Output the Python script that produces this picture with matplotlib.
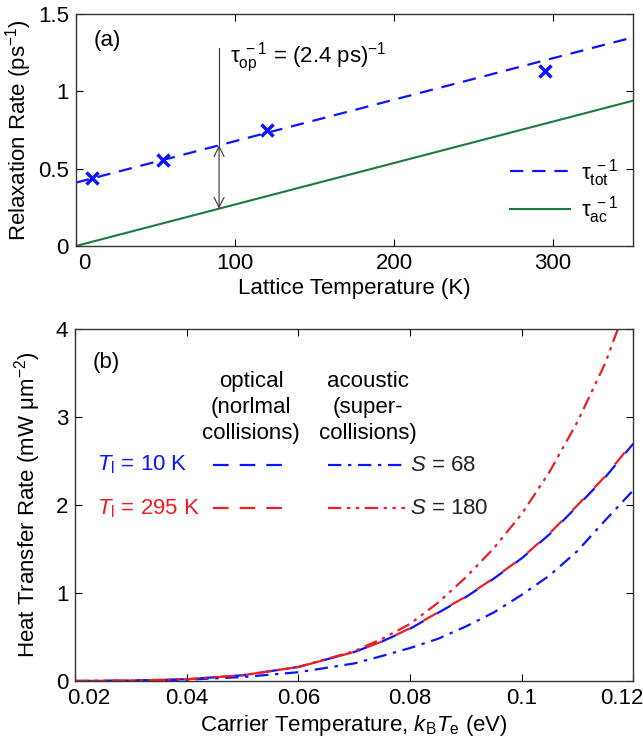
import numpy as np
import matplotlib
matplotlib.use('Agg')
import matplotlib.pyplot as plt
from matplotlib.lines import Line2D
from matplotlib.ticker import FuncFormatter
from matplotlib.transforms import ScaledTranslation

plt.rcParams['font.family'] = ['Liberation Sans', 'DejaVu Sans']
plt.rcParams['mathtext.fontset'] = 'custom'
plt.rcParams['mathtext.rm'] = 'Liberation Sans'
plt.rcParams['mathtext.it'] = 'Liberation Sans:italic'
plt.rcParams['font.size'] = 16
plt.rcParams['axes.linewidth'] = 1.0

# panel (a) data
meas_T = [10, 55, 120, 295]
meas_rate = [0.44, 0.555, 0.75, 1.135]
line_T = [0, 350]
tot_rate = [0.41, 1.35]
ac_rate = [0.0, 0.94]
arrow_T = 90
arrow_top = 1.28
arrow_hi = 0.652
arrow_lo = 0.242

# panel (b) data
kTe = [0.02, 0.03, 0.04, 0.05, 0.06, 0.07, 0.075, 0.08, 0.085, 0.09,
       0.095, 0.1, 0.105, 0.11, 0.115, 0.12]
opt_10K = [0.0, 0.005, 0.02, 0.065, 0.16, 0.33, 0.45, 0.595, 0.775, 0.955,
           1.165, 1.395, 1.67, 1.99, 2.32, 2.70]
opt_295K = [0.0, 0.005, 0.02, 0.065, 0.16, 0.33, 0.45, 0.60, 0.78, 0.96,
            1.17, 1.40, 1.68, 2.0, 2.33, 2.72]
ac_10K = [0.0, 0.003, 0.015, 0.045, 0.1, 0.2, 0.285, 0.375, 0.48, 0.62,
          0.78, 0.98, 1.2, 1.48, 1.83, 2.17]
kTe_ac295 = [0.02, 0.03, 0.04, 0.05, 0.06, 0.07, 0.075, 0.08, 0.085, 0.09,
             0.095, 0.1, 0.105, 0.11, 0.115, 0.1172]
ac_295K = [0.0, 0.005, 0.02, 0.065, 0.16, 0.34, 0.48, 0.65, 0.89, 1.18,
           1.51, 1.9, 2.38, 2.95, 3.62, 4.0]

blue = '#0a14ff'
red = '#ee1c24'
green = '#1b7a3e'

fmt = FuncFormatter(lambda v, p: '%g' % v)

fig = plt.figure(figsize=(6.43, 7.5), dpi=100)

# ---- (a)
ax1 = fig.add_axes([0.118, 0.672, 0.866, 0.309])
ax1.plot(line_T, tot_rate, color=blue, lw=1.6, dashes=(6, 4),
         label=r'$\mathrm{τ}_\mathrm{tot}^{\ -1}$')
ax1.plot(line_T, ac_rate, '-', color=green, lw=1.5,
         label=r'$\mathrm{τ}_\mathrm{ac}^{\ -1}$')
ax1.plot(meas_T, meas_rate, 'x', color=blue, ms=9, mew=2.5)
ax1.plot([arrow_T, arrow_T], [arrow_top, arrow_hi], color='#333333', lw=0.8)
ax1.annotate('', xy=(arrow_T, arrow_hi), xytext=(arrow_T, arrow_lo),
             arrowprops=dict(arrowstyle='<->', color='#333333', lw=0.8,
                             shrinkA=0, shrinkB=0, mutation_scale=18))
ax1.text(97, 1.22, r'$\mathrm{τ}_\mathrm{op}^{\ -1}$ = (2.4 ps)$^{-1}$',
         va='center', ha='left')
ax1.text(20, 1.33, '(a)', ha='center', va='center')
ax1.set_xlim(0, 350)
ax1.set_ylim(0, 1.5)
ax1.set_xticks([0, 100, 200, 300])
ax1.set_yticks([0, 0.5, 1, 1.5])
ax1.xaxis.set_major_formatter(fmt)
ax1.yaxis.set_major_formatter(fmt)
ax1.set_xlabel('Lattice Temperature (K)', labelpad=3)
ax1.set_ylabel(r'Relaxation Rate (ps$^{-1}$)', labelpad=3)
ax1.legend(loc='lower right', frameon=False, handlelength=2.7,
           handletextpad=0.5, labelspacing=0.25,
           bbox_to_anchor=(1.01, 0.0))

# ---- (b)
ax2 = fig.add_axes([0.117, 0.092, 0.868, 0.469])
ax2.plot(kTe, opt_10K, color=blue, lw=1.6, linestyle=(0, (7, 7)))
ax2.plot(kTe, opt_295K, color=red, lw=1.6, linestyle=(7, (7, 7)))
ax2.plot(kTe, ac_10K, color=blue, lw=1.6, dashes=(6, 3, 1.5, 3))
ax2.plot(kTe_ac295, ac_295K, color=red, lw=1.6,
         dashes=(6, 2.5, 1.5, 2.5, 1.5, 2.5))

ax2.set_xlim(0.02, 0.12)
ax2.set_ylim(0, 4)
ax2.set_xticks([0.02, 0.04, 0.06, 0.08, 0.1, 0.12])
ax2.set_yticks([0, 1, 2, 3, 4])
ax2.xaxis.set_major_formatter(fmt)
ax2.yaxis.set_major_formatter(fmt)
ax2.set_xlabel(r'Carrier Temperature, $k_\mathrm{B}T_\mathrm{e}$ (eV)', labelpad=3)
ax2.set_ylabel(r'Heat Transfer Rate (mW $\mathrm{μ}$m$^{-2}$)', labelpad=9)

# key drawn inside the axes
tr = ax2.transAxes
ax2.text(0.032, 0.906, '(b)', transform=tr, ha='left', va='center')
ax2.text(0.315, 0.778, 'optical\n(norlmal\ncollisions)', transform=tr,
         ha='center', va='center', linespacing=1.3)
ax2.text(0.525, 0.778, 'acoustic\n(super-\ncollisions)', transform=tr,
         ha='center', va='center', linespacing=1.3)
rows = [(0.614, blue, r'$T_\mathrm{l}$ = 10 K', r'$S$ = 68', (6, 3, 1.5, 3)),
        (0.491, red, r'$T_\mathrm{l}$ = 295 K', r'$S$ = 180', (6, 2.5, 1.5, 2.5, 1.5, 2.5))]
for yy, c, lab, slab, dd in rows:
    ax2.text(0.039, yy, lab, transform=tr, color=c, ha='left', va='center')
    ax2.add_line(Line2D([0.247, 0.389], [yy, yy], transform=tr, color=c,
                        lw=1.6, dashes=(7, 5)))
    ax2.add_line(Line2D([0.453, 0.591], [yy, yy], transform=tr, color=c,
                        lw=1.6, dashes=dd))
    ax2.text(0.600, yy, slab, transform=tr, color='#222222', ha='left', va='center')

for ax in (ax1, ax2):
    ax.tick_params(direction='in', top=True, right=True, length=5, width=0.8,
                   pad=5)
    for s in ax.spines.values():
        s.set_color('#333333')

# nudge the edge tick labels like the original
fig.canvas.draw()
for lab, dx in [(ax1.get_xticklabels()[0], 8), (ax2.get_xticklabels()[0], 14),
                (ax2.get_xticklabels()[-1], -12)]:
    lab.set_transform(lab.get_transform() + ScaledTranslation(dx / 100, 0, fig.dpi_scale_trans))

fig.savefig('out.png', dpi=100)
